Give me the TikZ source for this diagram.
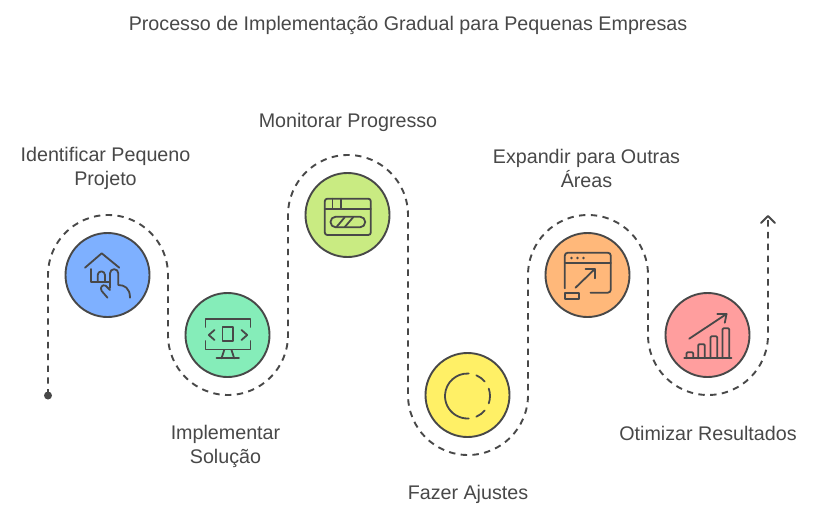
\documentclass[tikz,border=0pt]{standalone}
\usepackage{fontspec}
\setmainfont{Liberation Sans}
\usetikzlibrary{arrows.meta}
\definecolor{ink}{HTML}{484848}
\definecolor{cblue}{HTML}{7EB0FF}
\definecolor{cgreen}{HTML}{85EDB9}
\definecolor{clime}{HTML}{C9EB82}
\definecolor{cyellow}{HTML}{FFF066}
\definecolor{corange}{HTML}{FFB87A}
\definecolor{cpink}{HTML}{FF9E9E}
\tikzset{
  stepcircle/.style={circle,draw=ink,line width=1.9pt,minimum size=84pt,inner sep=0pt},
  icon/.style={draw=ink,line width=1.8pt,line cap=round,line join=round},
  trail/.style={draw=ink,line width=1.9pt,dash pattern=on 6.4pt off 5.4pt},
  lbl/.style={text=ink,font=\fontsize{19.7}{24}\selectfont,align=center,inner sep=0pt,anchor=center},
}
\begin{document}
\begin{tikzpicture}[x=1pt,y=-1pt]
\useasboundingbox (0,0) rectangle (816,516);
\fill[white] (0,0) rectangle (816,516);
% labels
\node[lbl] (title) at (408,25.5) {Processo de Implementação Gradual para Pequenas Empresas};
\node[lbl] (l1) at (105.5,168.5) {Identificar Pequeno\\Projeto};
\node[lbl] (l2) at (225.5,446) {Implementar\\Solução};
\node[lbl] (l3) at (348,122.2) {Monitorar Progresso};
\node[lbl] (l4) at (468,494) {Fazer Ajustes};
\node[lbl] (l5) at (586.5,168.5) {Expandir para Outras\\Áreas};
\node[lbl] (l6) at (708,433) {Otimizar Resultados};
% trail
\node[circle,fill=ink,minimum size=8pt,inner sep=0pt] (start) at (48,395.5) {};
\coordinate (p1) at (48,275);
\coordinate (p2) at (168,275);
\coordinate (p3) at (168,335);
\coordinate (p4) at (288,335);
\coordinate (p5) at (288,215);
\coordinate (p6) at (408,215);
\coordinate (p7) at (408,395);
\coordinate (p8) at (528,395);
\coordinate (p9) at (528,275);
\coordinate (p10) at (648,275);
\coordinate (p11) at (648,335);
\coordinate (p12) at (768,335);
\coordinate (end) at (768,216);
\path[trail] (start.center) -- (p1) arc[start angle=180,end angle=0,radius=60pt]
 -- (p3) arc[start angle=180,end angle=360,radius=60pt]
 -- (p5) arc[start angle=180,end angle=0,radius=60pt]
 -- (p7) arc[start angle=180,end angle=360,radius=60pt]
 -- (p9) arc[start angle=180,end angle=0,radius=60pt]
 -- (p11) arc[start angle=180,end angle=360,radius=60pt]
 -- (end);
\draw[draw=ink,line width=1.9pt,line cap=round,line join=round] (761,223) -- (end) -- (775,223);
% circles
\node[stepcircle,fill=cblue] (c1) at (107.5,275) {};
\node[stepcircle,fill=cgreen] (c2) at (227.5,335) {};
\node[stepcircle,fill=clime] (c3) at (347.5,215) {};
\node[stepcircle,fill=cyellow] (c4) at (467.5,395) {};
\node[stepcircle,fill=corange] (c5) at (587.5,275) {};
\node[stepcircle,fill=cpink] (c6) at (707.5,335) {};
% icon 1
\begin{scope}[shift={(c1.center)}]
\draw[icon] (-22.5,-7.3) -- (-5.8,-21.7) -- (11.8,-7.3);
\draw[icon] (-16.5,-6) -- (-16.5,6.7) -- (1.8,6.7);
\draw[icon] (-9.8,6.7) -- (-9.8,0) arc[start angle=180,end angle=0,radius=3.65pt] -- (-2.5,6.7);
\draw[icon] (2.5,13) -- (2.5,-1.7) arc[start angle=180,end angle=0,radius=4.15pt] -- (10.8,10) .. controls (17,10) and (22.5,13) .. (22.5,22.7);
\draw[icon] (0,22.7) -- (-5.8,16) .. controls (-8,12.5) and (-5,9) .. (-1.8,10.7) -- (2.5,15);
\end{scope}
% icon 2
\begin{scope}[shift={(c2.center)}]
\draw[icon] (-22,-8) -- (-22,-16) -- (23,-16) -- (23,-8);
\draw[icon] (-22,6) -- (-22,14.5) -- (23,14.5) -- (23,6);
\draw[icon] (-13,-5) -- (-18.7,0) -- (-13,5);
\draw[icon] (14,-5) -- (19.7,0) -- (14,5);
\draw[icon] (-5,-7.7) rectangle (5.7,6);
\draw[icon] (-3.3,15) -- (-6,23.3);
\draw[icon] (4,15) -- (6.7,23.3);
\draw[icon] (-11,23.3) -- (11.5,23.3);
\end{scope}
% icon 3
\begin{scope}[shift={(c3.center)}]
\draw[icon,rounded corners=2.5pt] (-22.7,-16.3) rectangle (23.3,20);
\draw[icon] (-22.7,-6) -- (23.3,-6);
\draw[icon] (-15,-16.3) -- (-15,-6);
\draw[icon] (-6.7,-16.3) -- (-6.7,-6);
\draw[icon,rounded corners=5.2pt] (-17,1.7) rectangle (17.7,12.3);
\draw[icon] (-11,12) -- (-2.7,2.2);
\draw[icon] (-2.7,12) -- (5.7,2.2);
\end{scope}
% icon 4
\begin{scope}[shift={(c4.center)}]
\coordinate (o4) at (0,1);
\draw[icon] (o4) ++(87:22.5pt) arc[start angle=87,end angle=273,radius=22.5pt];
\draw[icon] (o4) ++(67:22.5pt) arc[start angle=67,end angle=40,radius=22.5pt];
\draw[icon] (o4) ++(19:22.5pt) arc[start angle=19,end angle=-19,radius=22.5pt];
\draw[icon] (o4) ++(-40:22.5pt) arc[start angle=-40,end angle=-67,radius=22.5pt];
\end{scope}
% icon 5
\begin{scope}[shift={(c5.center)}]
\draw[icon,rounded corners=3pt] (-22.7,13.3) -- (-22.7,-22.3) -- (23.3,-22.3) -- (23.3,17.7) -- (3,17.7);
\draw[icon] (-22.7,-12.3) -- (23.3,-12.3);
\fill[ink] (-16,-17) circle[radius=1.3pt] (-10,-17) circle[radius=1.3pt] (-4,-17) circle[radius=1.3pt];
\draw[icon] (-12,12.7) -- (7.3,-6);
\draw[icon] (-2,-6) -- (7.3,-6) -- (7.3,3.3);
\draw[icon] (-22.7,18) rectangle (-8.3,24.3);
\end{scope}
% icon 6
\begin{scope}[shift={(c6.center)}]
\draw[icon] (-23.3,23.3) -- (24,23.3);
\draw[icon,rounded corners=1pt] (-21,23.3) -- (-21,17.3) -- (-14.3,17.3) -- (-14.3,23.3);
\draw[icon,rounded corners=1pt] (-9.3,23.3) -- (-9.3,9.3) -- (-2.7,9.3) -- (-2.7,23.3);
\draw[icon,rounded corners=1pt] (3,23.3) -- (3,1.3) -- (9.7,1.3) -- (9.7,23.3);
\draw[icon,rounded corners=1pt] (15,23.3) -- (15,-6.7) -- (21.7,-6.7) -- (21.7,23.3);
\draw[icon] (-18.3,3.7) -- (19,-21);
\draw[icon] (9.7,-21) -- (19,-21) -- (17.3,-12.3);
\end{scope}
\end{tikzpicture}
\end{document}
